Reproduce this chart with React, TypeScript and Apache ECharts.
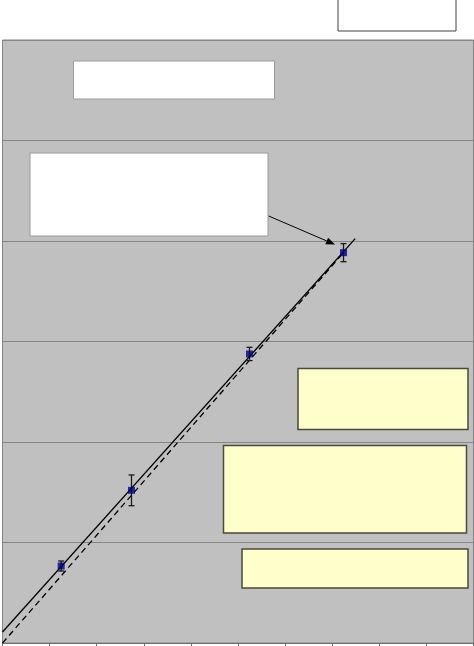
import React, { useEffect, useRef } from "react";
import * as echarts from "echarts";

// Measured points (x, y) with vertical error (±)
const pointX = [1.246, 2.739, 5.244, 7.24];
const pointY = [0.766, 1.519, 2.876, 3.884];
const pointErr = [0.05, 0.153, 0.066, 0.09];

// Fitted line (solid) and reference line (dashed): endpoints
const fitX = [0, 7.488];
const fitY = [0.109, 4.023];
const refX = [0, 7.197];
const refY = [0, 3.861];

// Axis extents (no labels shown)
const xMin = 0, xMax = 10, xStep = 1;
const yMin = 0, yMax = 6, yStep = 1;

export default function App() {
  const ref = useRef<HTMLDivElement>(null);
  useEffect(() => {
    if (!ref.current) return;
    const chart = echarts.init(ref.current, null, { renderer: "svg" });
    const pts = pointX.map((x, i) => [x, pointY[i]]);
    const errs = pointX.map((x, i) => [x, pointY[i], pointErr[i]]);
    const fit = fitX.map((x, i) => [x, fitY[i]]);
    const refl = refX.map((x, i) => [x, refY[i]]);

    // arrow geometry
    const ax1 = 268.7, ay1 = 216, ax2 = 335, ay2 = 244.5;
    const ang = Math.atan2(ay2 - ay1, ax2 - ax1);
    const L = 9, W = 3.5;
    const bx = ax2 - L * Math.cos(ang), by = ay2 - L * Math.sin(ang);
    const px = -Math.sin(ang) * W, py = Math.cos(ang) * W;

    const boxWhite = { fill: "#FFFFFF", stroke: "#9A9A9A", lineWidth: 1 };
    const boxYellow = { fill: "#FFFFCC", stroke: "#4A4A3A", lineWidth: 1.5 };

    chart.setOption({
      animation: false,
      grid: {
        left: 2.5,
        top: 40,
        width: 471,
        height: 603,
        show: true,
        backgroundColor: "#C0C0C0",
        borderColor: "#858585",
        borderWidth: 1,
      },
      xAxis: {
        type: "value",
        min: xMin,
        max: xMax,
        interval: xStep,
        axisLine: { show: true, onZero: false, lineStyle: { color: "#6E6E6E", width: 1 } },
        axisTick: { show: true, length: 3, lineStyle: { color: "#6E6E6E" } },
        axisLabel: { show: false },
        splitLine: { show: false },
      },
      yAxis: {
        type: "value",
        min: yMin,
        max: yMax,
        interval: yStep,
        axisLine: { show: false },
        axisTick: { show: false },
        axisLabel: { show: false },
        splitLine: { show: true, lineStyle: { color: "#858585", width: 1 } },
      },
      series: [
        {
          type: "line",
          data: refl,
          symbol: "none",
          lineStyle: { color: "#000000", width: 1.3, type: [6, 4] },
          z: 2,
        },
        {
          type: "line",
          data: fit,
          symbol: "none",
          lineStyle: { color: "#000000", width: 1.3 },
          z: 3,
        },
        {
          type: "custom",
          data: errs,
          encode: { x: 0, y: 1 },
          z: 4,
          renderItem: (params: any, api: any) => {
            const x = api.value(0), y = api.value(1), e = api.value(2);
            const t = api.coord([x, y + e]);
            const b = api.coord([x, y - e]);
            const hw = 3;
            const st = { stroke: "#1A1A1A", lineWidth: 1.3 };
            return {
              type: "group",
              children: [
                { type: "line", shape: { x1: t[0], y1: t[1], x2: b[0], y2: b[1] }, style: st },
                { type: "line", shape: { x1: t[0] - hw, y1: t[1], x2: t[0] + hw, y2: t[1] }, style: st },
                { type: "line", shape: { x1: b[0] - hw, y1: b[1], x2: b[0] + hw, y2: b[1] }, style: st },
              ],
            };
          },
        },
        {
          type: "scatter",
          data: pts,
          symbol: "rect",
          symbolSize: 7,
          itemStyle: { color: "#000080" },
          z: 5,
        },
      ],
      graphic: [
        { type: "rect", shape: { x: 338, y: -2, width: 118, height: 33 }, style: { fill: "#FFFFFF", stroke: "#404040", lineWidth: 1 }, z: 10 },
        { type: "rect", shape: { x: 73.5, y: 61, width: 201, height: 38 }, style: boxWhite, z: 10 },
        { type: "rect", shape: { x: 30, y: 153, width: 238, height: 83 }, style: boxWhite, z: 10 },
        { type: "rect", shape: { x: 298, y: 368.5, width: 170, height: 61 }, style: boxYellow, z: 10 },
        { type: "rect", shape: { x: 223.5, y: 445.5, width: 243, height: 87.5 }, style: boxYellow, z: 10 },
        { type: "rect", shape: { x: 242, y: 549, width: 226, height: 39 }, style: boxYellow, z: 10 },
        { type: "line", shape: { x1: ax1, y1: ay1, x2: bx, y2: by }, style: { stroke: "#000000", lineWidth: 1 }, z: 10 },
        {
          type: "polygon",
          shape: { points: [[ax2, ay2], [bx + px, by + py], [bx - px, by - py]] },
          style: { fill: "#000000" },
          z: 10,
        },
      ],
    });
    return () => chart.dispose();
  }, []);
  return (
    <div
      ref={ref}
      style={{ position: "absolute", left: 0, top: 0, width: 474, height: 646, background: "#FFFFFF" }}
    />
  );
}
